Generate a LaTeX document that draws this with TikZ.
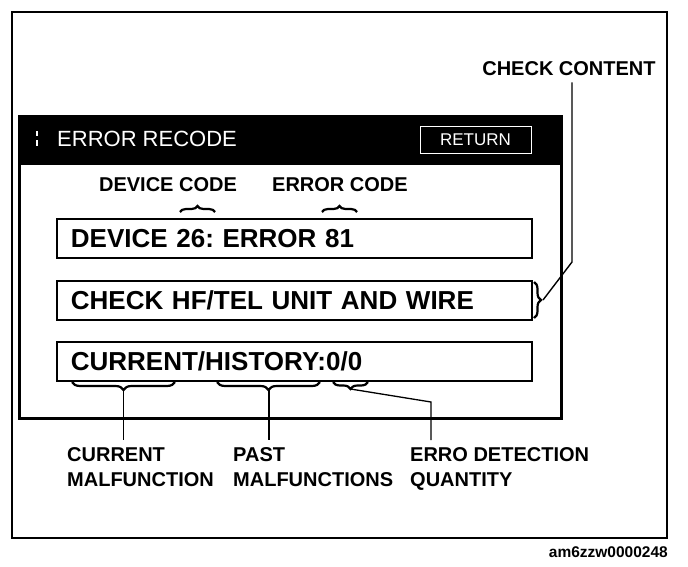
\documentclass[tikz,border=0pt]{standalone}
\usepackage{fontspec}
\setmainfont{Liberation Sans}
\usetikzlibrary{decorations.pathreplacing}
\frenchspacing
\begin{document}
\begin{tikzpicture}[x=1pt,y=-1pt,
  lbl/.style={font=\bfseries\fontsize{20}{25}\selectfont, inner sep=0pt, anchor=north west, align=left},
  field/.style={draw, line width=1.8pt, anchor=north west, minimum width=475pt, minimum height=39pt,
     text width=447pt, inner xsep=14pt, inner ysep=0pt, align=left, font=\bfseries\fontsize{26}{30}\selectfont},
  brc/.style={decorate, decoration={brace, amplitude=#1}, line width=2.2pt},
  brc/.default=6pt,
  leader/.style={line width=1pt}]
\useasboundingbox (0,0) rectangle (688,566);
% outer frame
\draw[line width=1.6pt] (12,12) rectangle (667,538);
% screen
\fill (18,115) rectangle (563,165);
\draw[line width=3pt] (19.5,116.5) rectangle (561.5,418);
% title bar
\draw[white, line width=1.2pt] (37,131) -- (37,136) (37,140) -- (37,146);
\node[font=\fontsize{22}{26}\selectfont, text=white, anchor=west, inner sep=0pt] (title) at (57,139) {ERROR RECODE};
\node[draw=white, line width=1pt, minimum width=111pt, minimum height=27pt, inner sep=0pt,
      text=white, font=\fontsize{17}{20}\selectfont] (ret) at (475.5,139.5) {RETURN};
% code labels
\node[font=\bfseries\fontsize{20}{24}\selectfont, inner sep=0pt] (devc) at (168,185) {DEVICE CODE};
\node[font=\bfseries\fontsize{20}{24}\selectfont, inner sep=0pt] (errc) at (340,185) {ERROR CODE};
\coordinate (dbl) at (180,212); \coordinate (dbr) at (215,212);
\coordinate (ebl) at (322,212); \coordinate (ebr) at (357,212);
\draw[brc] (dbl) -- (dbr);
\draw[brc] (ebl) -- (ebr);
% fields
\node[field] (b1) at (56,218) {DEVICE 26: ERROR 81};
\node[field] (b2) at (56,280) {CHECK HF/TEL UNIT AND WIRE};
\node[field] (b3) at (56,341) {CURRENT/HISTORY:0/0};
% check content
\node[font=\bfseries\fontsize{20}{24}\selectfont, inner sep=0pt] (cc) at (569,69) {CHECK CONTENT};
\coordinate (cbt) at (534,282); \coordinate (cbb) at (534,318);
\draw[brc=7pt] (cbt) -- (cbb);
\coordinate (ctip) at (543,300);
\coordinate (cbend) at (572,262);
\draw[leader, line width=1.4pt] (ctip) -- (cbend) -- ([yshift=-6pt]cbend |- cc.south);
% lower braces
\coordinate (l1a) at (72,382); \coordinate (l1b) at (175,382);
\coordinate (l2a) at (217,382); \coordinate (l2b) at (320,382);
\coordinate (l3a) at (333,382); \coordinate (l3b) at (368,382);
\draw[brc=8pt] (l1b) -- (l1a);
\draw[brc=8pt] (l2b) -- (l2a);
\draw[brc=7pt] (l3b) -- (l3a);
\coordinate (tip1) at (123.5,390);
\coordinate (tip2) at (268.5,390);
\coordinate (tip3) at (350.5,389);
\coordinate (bend3) at (431,402);
% bottom labels
\node[lbl] (cur) at (67,447) {CURRENT\\MALFUNCTION};
\node[lbl] (past) at (233,447) {PAST\\MALFUNCTIONS};
\node[lbl] (erro) at (410,447) {ERRO DETECTION\\QUANTITY};
\draw[leader] (tip1) -- ([yshift=7pt]tip1 |- cur.north);
\draw[leader, line width=2pt] (tip2) -- ([yshift=7pt]tip2 |- past.north);
\draw[leader, line width=1.3pt] (tip3) -- (bend3) -- ([yshift=7pt]bend3 |- erro.north);
% figure code
\node[font=\bfseries\fontsize{15.5}{18}\selectfont, anchor=east, inner sep=0pt] (code) at (668,552) {am6zzw0000248};
\end{tikzpicture}
\end{document}
